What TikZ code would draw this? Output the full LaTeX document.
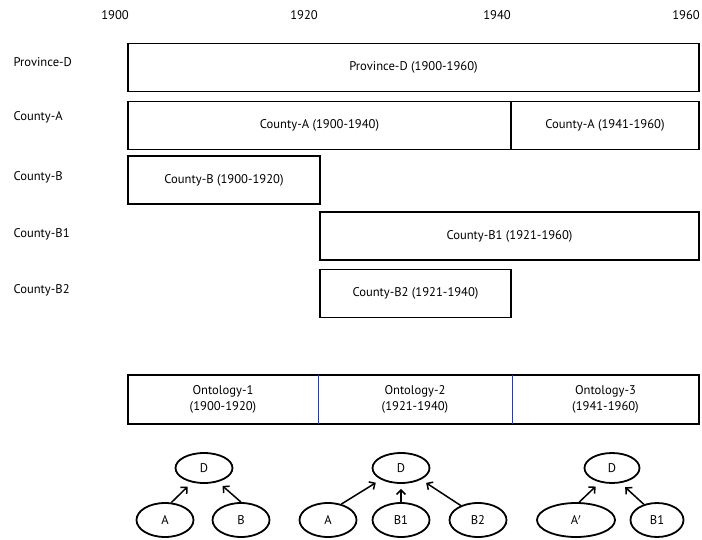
\documentclass[tikz,border=0pt]{standalone}
\usepackage{fontspec}
\setmainfont{PT Sans}
\usepackage{tikz}
\usetikzlibrary{arrows.meta, shapes.geometric}

\begin{document}
\begin{tikzpicture}[x=1pt, y=-1pt,
    txt/.style={font=\fontsize{12.6}{16}\selectfont},
    rowlabel/.style={txt, anchor=west},
    periodbox/.style={txt, draw, line width=1.8pt, inner sep=0pt, minimum height=48pt},
    ontobox/.style={txt, inner sep=0pt, minimum height=48pt, align=center},
    concept/.style={txt, ellipse, draw, line width=1.8pt, inner sep=0pt, minimum width=57pt, minimum height=34pt},
    link/.style={-{Straight Barb[length=4.5pt]}, line width=1.5pt, shorten >=6pt}]

    % Define colors
    \definecolor{ontoblue}{RGB}{45, 60, 150}

    \useasboundingbox (0, 0) rectangle (702, 539);

    % Year scale
    \foreach \yr/\xx in {1900/115, 1920/304, 1940/497, 1960/686} {
        \node[txt] (year\yr) at (\xx, 15) {\yr};
    }

    % Row labels
    \node[rowlabel] (lblProvD) at (10, 62) {Province-D};
    \node[rowlabel] (lblCntA) at (10, 117) {County-A};
    \node[rowlabel] (lblCntB) at (10, 177) {County-B};
    \node[rowlabel] (lblCntB1) at (10, 234) {County-B1};
    \node[rowlabel] (lblCntB2) at (10, 290) {County-B2};

    % Periods of each unit
    \node[periodbox, minimum width=571pt] (provD) at (413.5, 67.5) {Province-D (1900-1960)};
    \node[periodbox, minimum width=383pt] (cntA1) at (319.5, 125.5) {County-A (1900-1940)};
    \node[periodbox, minimum width=188pt] (cntA2) at (605, 125.5) {County-A (1941-1960)};
    \node[periodbox, minimum width=192pt] (cntB) at (224, 180) {County-B (1900-1920)};
    \node[periodbox, minimum width=379pt] (cntB1) at (509.5, 236) {County-B1 (1921-1960)};
    \node[periodbox, minimum width=191pt] (cntB2) at (415.5, 293.5) {County-B2 (1921-1940)};

    % Ontology strip
    \node[ontobox, minimum width=190pt] (onto1) at (223, 399.5) {Ontology-1\\(1900-1920)};
    \node[ontobox, minimum width=194pt] (onto2) at (415, 399.5) {Ontology-2\\(1921-1940)};
    \node[ontobox, minimum width=187pt] (onto3) at (605.5, 399.5) {Ontology-3\\(1941-1960)};
    \draw[line width=1.8pt] (onto1.north west) rectangle (onto3.south east);
    \draw[ontoblue, line width=1.3pt] (onto1.north east) -- (onto1.south east);
    \draw[ontoblue, line width=1.3pt] (onto2.north east) -- (onto2.south east);

    % Ontology-1 hierarchy
    \node[concept, minimum height=30pt] (d1) at (204, 468) {D};
    \node[concept] (a1) at (165, 520) {A};
    \node[concept] (b1) at (241, 520) {B};
    \draw[link] (a1.70) -- (d1.230);
    \draw[link] (b1.north) -- (d1.315);

    % Ontology-2 hierarchy
    \node[concept, minimum height=30pt] (d2) at (401, 468) {D};
    \node[concept] (a2) at (328, 520) {A};
    \node[concept] (b12) at (401, 520) {B1};
    \node[concept] (b22) at (478, 520) {B2};
    \draw[link] (a2.50) -- (d2.210);
    \draw[link, shorten >=5pt] (b12.north) -- (d2.south);
    \draw[link] (b22.140) -- (d2.330);

    % Ontology-3 hierarchy
    \node[concept, minimum height=30pt, minimum width=55pt] (d3) at (612, 468) {D};
    \node[concept, minimum width=78pt] (a3) at (576, 520) {A$'$};
    \node[concept, minimum width=53pt] (b13) at (657, 520) {B1};
    \draw[link] (a3.80) -- (d3.230);
    \draw[link] (b13.130) -- (d3.300);

\end{tikzpicture}
\end{document}
